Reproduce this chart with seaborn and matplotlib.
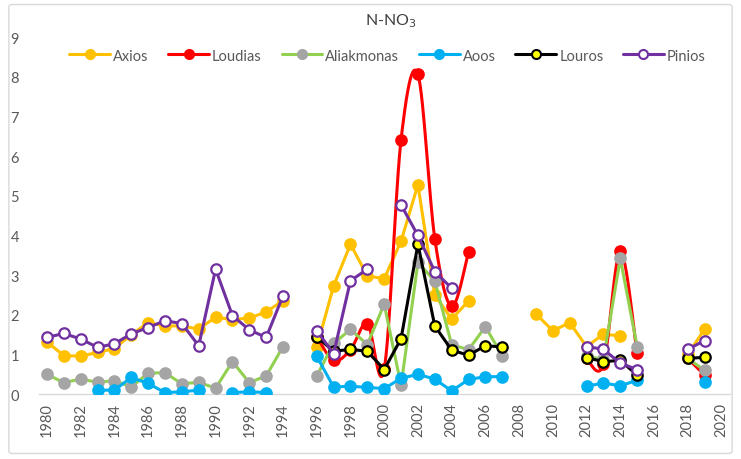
import numpy as np
import pandas as pd
import matplotlib
matplotlib.use("Agg")
import matplotlib.pyplot as plt
from matplotlib.lines import Line2D
from matplotlib.patches import FancyBboxPatch
import seaborn as sns

nan = np.nan
years = list(range(1980, 2020))

axios = [1.32, 0.97, 0.96, 1.05, 1.15, 1.50, 1.80, 1.72, 1.72, 1.64,
         1.94, 1.88, 1.92, 2.07, 2.36, nan, 1.18, 2.73, 3.78, 2.98,
         2.91, 3.86, 5.28, 2.50, 1.89, 2.35, nan, nan, nan, 2.02,
         1.60, 1.80, 1.20, 1.51, 1.47, nan, nan, nan, 1.00, 1.64]
loudias = [nan, nan, nan, nan, nan, nan, nan, nan, nan, nan,
           nan, nan, nan, nan, nan, nan, 1.45, 0.85, 1.12, 1.78,
           0.63, 6.42, 8.06, 3.92, 2.21, 3.58, nan, nan, nan, nan,
           nan, nan, 0.90, 0.75, 3.60, 1.03, nan, nan, 0.90, 0.48]
aliakmonas = [0.50, 0.29, 0.38, 0.30, 0.34, 0.18, 0.53, 0.54, 0.26, 0.30,
              0.15, 0.82, 0.29, 0.46, 1.20, nan, 0.46, 1.28, 1.63, 1.25,
              2.27, 0.22, 3.32, 2.85, 1.25, 1.12, 1.70, 0.97, nan, nan,
              nan, nan, 0.95, 0.88, 3.42, 1.20, nan, nan, 0.90, 0.60]
aoos = [nan, nan, nan, 0.10, 0.10, 0.42, 0.27, 0.04, 0.06, 0.10,
        nan, 0.04, 0.06, 0.04, nan, nan, 0.95, 0.18, 0.20, 0.17,
        0.14, 0.40, 0.50, 0.38, 0.08, 0.37, 0.44, 0.44, nan, nan,
        nan, nan, 0.20, 0.28, 0.21, 0.35, nan, nan, nan, 0.30]
louros = [nan, nan, nan, nan, nan, nan, nan, nan, nan, nan,
          nan, nan, nan, nan, nan, nan, 1.45, 1.08, 1.13, 1.08,
          0.62, 1.40, 3.78, 1.72, 1.11, 0.98, 1.22, 1.19, nan, nan,
          nan, nan, 0.92, 0.82, 0.85, 0.48, nan, nan, 0.90, 0.93]
pinios = [1.43, 1.53, 1.39, 1.18, 1.27, 1.52, 1.68, 1.85, 1.78, 1.22,
          3.15, 1.98, 1.62, 1.43, 2.48, nan, 1.60, 1.02, 2.86, 3.15,
          nan, 4.77, 4.00, 3.09, 2.67, nan, nan, nan, nan, nan,
          nan, nan, 1.20, 1.13, 0.78, 0.62, nan, nan, 1.13, 1.35]

series_names = ["Axios", "Loudias", "Aliakmonas", "Aoos", "Louros", "Pinios"]
series_values = [axios, loudias, aliakmonas, aoos, louros, pinios]

# line colour, marker face, marker edge, smoothed line
styles = {
    "Axios":      ("#FFC000", "#FFC000", "#FFC000", False),
    "Loudias":    ("#FF0000", "#FF0000", "#FF0000", True),
    "Aliakmonas": ("#92D050", "#A5A5A5", "#A5A5A5", False),
    "Aoos":       ("#00B0F0", "#00B0F0", "#00B0F0", False),
    "Louros":     ("#000000", "#FFFF00", "#000000", False),
    "Pinios":     ("#7030A0", "#FFFFFF", "#7030A0", False),
}

tick_years = list(range(1980, 2021, 2))

sns.set_theme(style="white")
plt.rcParams["font.family"] = ["Lato", "DejaVu Sans"]

fig = plt.figure(figsize=(7.41, 4.60), dpi=100)
ax = fig.add_axes([0.052, 0.141, 0.933, 0.776])

# light chart-area frame
fig.patches.append(FancyBboxPatch((0.012, 0.012), 0.976, 0.976,
                                  boxstyle="round,pad=0,rounding_size=0.005",
                                  transform=fig.transFigure, fill=False,
                                  edgecolor="#D9D9D9", linewidth=1.0))


def segments(x, y):
    """Split a series into runs of consecutive non-missing values."""
    runs, cur = [], []
    for xi, yi in zip(x, y):
        if np.isnan(yi):
            if cur:
                runs.append(cur)
            cur = []
        else:
            cur.append((xi, yi))
    if cur:
        runs.append(cur)
    return runs


def smooth(run, n=30):
    """Cardinal Bezier smoothing through the points of a run."""
    pts = np.array(run, dtype=float)
    if len(pts) < 3:
        return pts[:, 0], pts[:, 1]
    xs, ys = [], []
    for i in range(len(pts) - 1):
        p0 = pts[max(i - 1, 0)]
        p1 = pts[i]
        p2 = pts[i + 1]
        p3 = pts[min(i + 2, len(pts) - 1)]
        c1 = p1 + (p2 - p0) / 6.0
        c2 = p2 - (p3 - p1) / 6.0
        t = np.linspace(0, 1, n)[:, None]
        b = ((1 - t) ** 3) * p1 + 3 * ((1 - t) ** 2) * t * c1 \
            + 3 * (1 - t) * t ** 2 * c2 + t ** 3 * p2
        xs.append(b[:, 0])
        ys.append(b[:, 1])
    return np.concatenate(xs), np.concatenate(ys)


z = 2
for name, vals in zip(series_names, series_values):
    lc, mfc, mec, is_smooth = styles[name]
    for run in segments(years, vals):
        rx = [p[0] for p in run]
        ry = [p[1] for p in run]
        if is_smooth:
            sx, sy = smooth(run)
            sns.lineplot(x=sx, y=sy, ax=ax, color=lc, linewidth=2.2,
                         sort=False, estimator=None, zorder=z)
        elif len(run) > 1:
            sns.lineplot(x=rx, y=ry, ax=ax, color=lc, linewidth=2.2,
                         sort=False, estimator=None, zorder=z)
        ax.plot(rx, ry, linestyle="none", marker="o", markersize=7.5,
                markerfacecolor=mfc, markeredgecolor=mec,
                markeredgewidth=1.6, zorder=z + 0.5)
    z += 1

ax.set_xlim(1979.5, 2020.5)
ax.set_ylim(0, 9)
ax.set_yticks(range(0, 10))
ax.set_xticks(tick_years)
ax.set_xticklabels([str(t) for t in tick_years], rotation=90)
ax.tick_params(axis="both", colors="#595959", labelsize=10.5, length=0)
ax.tick_params(axis="x", pad=6)
ax.tick_params(axis="y", pad=14)
for side in ["top", "right", "left"]:
    ax.spines[side].set_visible(False)
ax.spines["bottom"].set_color("#D9D9D9")
ax.spines["bottom"].set_linewidth(1.0)
ax.grid(False)
ax.set_xlabel("")
ax.set_ylabel("")

fig.text(0.527, 0.955, "N-NO$_3$", ha="center", va="center",
         fontsize=11.5, color="#404040")

handles = []
for name in series_names:
    lc, mfc, mec, _ = styles[name]
    handles.append(Line2D([0], [0], color=lc, linewidth=2.2, marker="o",
                          markersize=6.5, markerfacecolor=mfc,
                          markeredgecolor=mec, markeredgewidth=1.5))
leg = fig.legend(handles, series_names, loc="center", ncol=6,
                 bbox_to_anchor=(0.523, 0.877), frameon=False,
                 fontsize=10.5, handlelength=2.8, columnspacing=1.35,
                 handletextpad=0.2)
for t in leg.get_texts():
    t.set_color("#595959")

fig.savefig("out.png", dpi=100)
